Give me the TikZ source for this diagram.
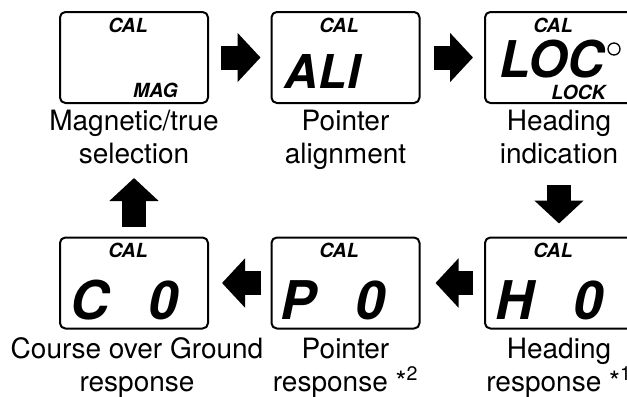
\documentclass[tikz,border=0pt]{standalone}
\usepackage{fontspec}
\setmainfont{TeX Gyre Heros}
\usetikzlibrary{arrows.meta,positioning,calc}

\begin{document}
\begin{tikzpicture}[
  x=0.75pt, y=-0.75pt,
  line join=round,
  every node/.style={inner sep=0pt, outer sep=0pt},
  lcd/.style={draw, line width=1.5pt, rounded corners=4pt, minimum width=111pt, minimum height=68.25pt},
  tag/.style={font=\fontsize{14.6}{16}\selectfont\bfseries\itshape, anchor=base},
  big/.style={font=\fontsize{40}{44}\selectfont\bfseries\itshape, anchor=base},
  caption/.style={font=\fontsize{21}{24.75}\selectfont, align=center, anchor=base},
  flow/.style={line width=18pt, -{Triangle[length=17.25pt, width=36pt]}},
]
\useasboundingbox (0,0) rectangle (627,396);
% top row
\node[lcd] (mag) at (134,57.5) {};
\node[lcd] (ali) at (345.5,57.5) {};
\node[lcd] (loc) at (559,57.5) {};
% bottom row
\node[lcd] (cog) at (134,283) {};
\node[lcd] (ptr) at (345.5,283) {};
\node[lcd] (hdg) at (559,283) {};

\node[tag] (magcal) at (128,32.5) {CAL};
\node[tag] (magmag) at (155.5,97) {MAG};
\node[tag] (alical) at (339,32.5) {CAL};
\node[big, font=\fontsize{35}{40}\selectfont\bfseries\itshape] (alitext) at (322.5,88) {ALI};
\node[tag] (loccal) at (553,32.5) {CAL};
\node[big, font=\fontsize{38}{42}\selectfont\bfseries\itshape] (loctext) at (552,77) {LOC};
\node[circle, draw, line width=1pt, minimum size=9pt] (degree) at (614,49) {};
\node[tag] (loclock) at (578.5,99) {LOCK};

\node[tag] (cogcal) at (128,257) {CAL};
\node[big] (cogc) at (89.5,319) {C};
\node[big] (cogzero) at (163.5,319) {0};
\node[tag] (ptrcal) at (339,257) {CAL};
\node[big] (ptrp) at (298.5,319) {P};
\node[big] (ptrzero) at (370.5,319) {0};
\node[tag] (hdgcal) at (553,257) {CAL};
\node[big] (hdgh) at (514.5,319) {H};
\node[big] (hdgzero) at (588.5,319) {0};

% captions (base = last line)
\node[caption] (capmag) at (134,163) {Magnetic/true\\selection};
\node[caption] (capali) at (345.5,163) {Pointer\\alignment};
\node[caption] (caploc) at (559,163) {Heading\\indication};
\node[caption] (capcog) at (137,391) {Course over Ground\\response};
\node[caption] (capptr) at (345.5,391) {Pointer\\response *\textsuperscript{2}};
\node[caption] (caphdg) at (559,391) {Heading\\response *\textsuperscript{1}};

% flow
\draw[flow, shorten <=9.75pt, shorten >=8.25pt] (mag.east) -- (ali.west);
\draw[flow, shorten <=11pt, shorten >=9pt] (ali.east) -- (loc.west);
\draw[flow, shorten <=61.5pt, shorten >=10.5pt] (loc.south) -- (hdg.north);
\draw[flow, shorten <=9pt, shorten >=12pt] (hdg.west) -- (ptr.east);
\draw[flow, shorten <=8.25pt, shorten >=10.5pt] (ptr.west) -- (cog.east);
\draw[flow, shorten <=8.25pt, shorten >=56.25pt] (cog.north) -- (mag.south);
\end{tikzpicture}
\end{document}
